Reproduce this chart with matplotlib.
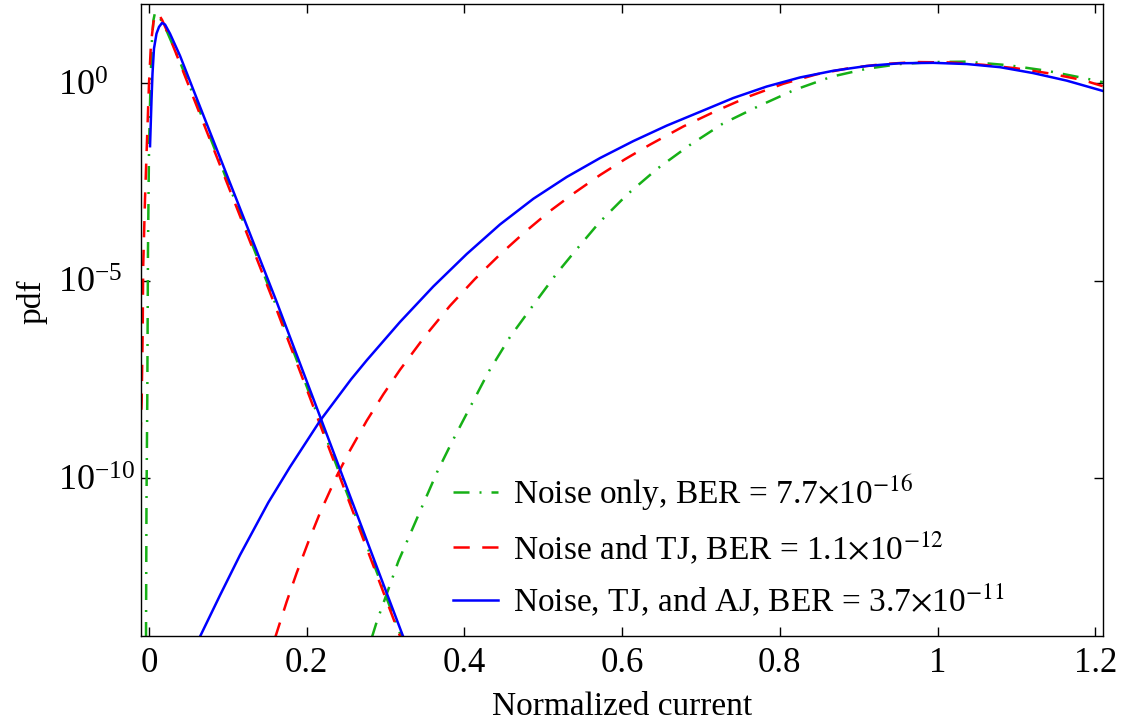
import numpy as np
import matplotlib
matplotlib.use('Agg')
from matplotlib import pyplot as plt
from matplotlib.ticker import NullLocator

plt.rcParams['font.family'] = ['Liberation Serif', 'DejaVu Serif']
plt.rcParams['mathtext.fontset'] = 'stix'

# values: x = normalized current, y = log10(pdf)
# noise only
x_g0 = [-0.0038, -0.0032, -0.0022, -0.0013, 0.0, 0.0019, 0.0038, 0.0057, 0.0076, 0.0108,
        0.0165, 0.0228, 0.036, 0.0584, 0.1085, 0.1586, 0.2068, 0.2391, 0.279, 0.3205]
l_g0 = [-14.05, -10.6, -8.04, -4.22, -1.68, 0.0, 1.12, 1.6, 1.78, 1.74,
        1.55, 1.3, 0.69, -0.41, -2.95, -5.50, -8.04, -9.75, -11.86, -14.05]
x_g1 = [0.2824, 0.2888, 0.3162, 0.3466, 0.3656, 0.3839, 0.4071, 0.4304, 0.4578, 0.4874,
        0.5171, 0.5381, 0.5711, 0.6066, 0.6446, 0.6852, 0.7276, 0.7727, 0.818, 0.8658,
        0.9101, 0.9524, 0.994, 1.037, 1.0898, 1.1385, 1.1892, 1.2095]
l_g1 = [-14.05, -13.64, -12.11, -10.71, -9.84, -9.10, -8.21, -7.32, -6.43, -5.62,
        -4.82, -4.31, -3.53, -2.82, -2.17, -1.58, -1.03, -0.59, -0.18, 0.16,
        0.36, 0.48, 0.53, 0.54, 0.45, 0.31, 0.11, 0.02]

# noise and TJ
x_r0 = [-0.0108, -0.0093, -0.008, -0.0074, -0.0051, -0.0022, 0.0, 0.0025, 0.0057, 0.0095,
        0.0127, 0.0165, 0.0228, 0.0355, 0.0571, 0.1072, 0.1573, 0.2055, 0.2378, 0.2777, 0.3192]
l_r0 = [-9.0, -8.04, -6.26, -4.66, -2.95, -1.25, 0.0, 1.0, 1.55, 1.76,
        1.72, 1.6, 1.32, 0.69, -0.41, -2.95, -5.50, -8.04, -9.75, -11.86, -14.05]
x_r1 = [0.1598, 0.1746, 0.1873, 0.202, 0.2169, 0.238, 0.2549, 0.2761, 0.2972, 0.3183,
        0.35, 0.3817, 0.4134, 0.4452, 0.4769, 0.5086, 0.5403, 0.572, 0.6037, 0.6354,
        0.6777, 0.72, 0.7622, 0.8044, 0.8467, 0.889, 0.9313, 0.9736, 1.0159, 1.0582,
        1.1004, 1.1427, 1.185, 1.2095]
l_r1 = [-14.05, -13.13, -12.40, -11.62, -10.88, -9.95, -9.30, -8.55, -7.88, -7.26,
        -6.41, -5.64, -4.96, -4.34, -3.77, -3.24, -2.77, -2.33, -1.93, -1.56,
        -1.10, -0.70, -0.33, -0.02, 0.22, 0.38, 0.48, 0.53, 0.52, 0.46,
        0.37, 0.24, 0.07, -0.08]

# noise, TJ and AJ
x_b0 = [0.0013, 0.0032, 0.0044, 0.0063, 0.0095, 0.0127, 0.0165, 0.0203, 0.0266, 0.0393,
        0.0609, 0.111, 0.1611, 0.2093, 0.2416, 0.2815, 0.323]
l_b0 = [-1.60, -0.41, 0.23, 0.87, 1.25, 1.42, 1.52, 1.48, 1.25, 0.69,
        -0.41, -2.95, -5.50, -8.04, -9.75, -11.86, -14.05]
x_b1 = [0.0638, 0.09, 0.1154, 0.1513, 0.1788, 0.2169, 0.2563, 0.2761, 0.3183, 0.3606,
        0.4029, 0.4452, 0.4875, 0.5297, 0.572, 0.6143, 0.6565, 0.6988, 0.741, 0.7833,
        0.8256, 0.8679, 0.9101, 0.9524, 0.9947, 1.037, 1.0793, 1.1215, 1.1638, 1.2095]
l_b1 = [-14.05, -12.97, -11.95, -10.62, -9.72, -8.55, -7.50, -7.02, -6.05, -5.15,
        -4.33, -3.58, -2.93, -2.38, -1.90, -1.47, -1.08, -0.73, -0.38, -0.09,
        0.14, 0.31, 0.43, 0.50, 0.51, 0.48, 0.40, 0.25, 0.06, -0.20]

labels = ['Noise only, BER = 7.7$\\times$10$^{-16}$',
          'Noise and TJ, BER = 1.1$\\times$10$^{-12}$',
          'Noise, TJ, and AJ, BER = 3.7$\\times$10$^{-11}$']
xticks = [0, 0.2, 0.4, 0.6, 0.8, 1, 1.2]
xticklabels = ['0', '0.2', '0.4', '0.6', '0.8', '1', '1.2']
yticks = [1e-10, 1e-5, 1e0]

green = '#16b016'
red = '#ff0000'
blue = '#0000ff'

fig = plt.figure(figsize=(11.32, 7.24), dpi=100)
ax = fig.add_axes([0.1246, 0.1215, 0.8498, 0.8730])

g_style = dict(color=green, lw=1.8, dashes=(6.4, 4, 0.8, 4))
r_style = dict(color=red, lw=1.8, dashes=(6.5, 5))
b_style = dict(color=blue, lw=1.8)

ax.semilogy(x_g0, np.power(10.0, l_g0), label=labels[0], **g_style)
ax.semilogy(x_g1, np.power(10.0, l_g1), **g_style)
ax.semilogy(x_r0, np.power(10.0, l_r0), label=labels[1], **r_style)
ax.semilogy(x_r1, np.power(10.0, l_r1), **r_style)
ax.semilogy(x_b0, np.power(10.0, l_b0), label=labels[2], **b_style)
ax.semilogy(x_b1, np.power(10.0, l_b1), **b_style)

ax.set_xlim(-0.0101, 1.2099)
ax.set_ylim(1e-14, 1e2)
ax.set_xticks(xticks)
ax.set_xticklabels(xticklabels)
ax.set_yticks(yticks)
ax.yaxis.set_minor_locator(NullLocator())
ax.tick_params(which='both', direction='in', top=True, right=True, length=6.5, width=1.0,
               labelsize=25)
ax.tick_params(axis='y', labelsize=26, pad=60)
ax.tick_params(axis='x', pad=8)
for t in ax.get_yticklabels():
    t.set_ha('left')
for s in ax.spines.values():
    s.set_linewidth(1.0)

fig.text(0.5495, 0.0124, 'Normalized current', ha='center', va='baseline', fontsize=24)
fig.text(0.028, 0.583, 'pdf', rotation=90, ha='center', va='center', fontsize=24)

ax.legend(loc='upper left', bbox_to_anchor=(0.3243, 0.259), frameon=False, fontsize=24,
          borderpad=0, borderaxespad=0, handlelength=1.35, handletextpad=0.45,
          labelspacing=0.47)

fig.savefig('out.png', dpi=100)
